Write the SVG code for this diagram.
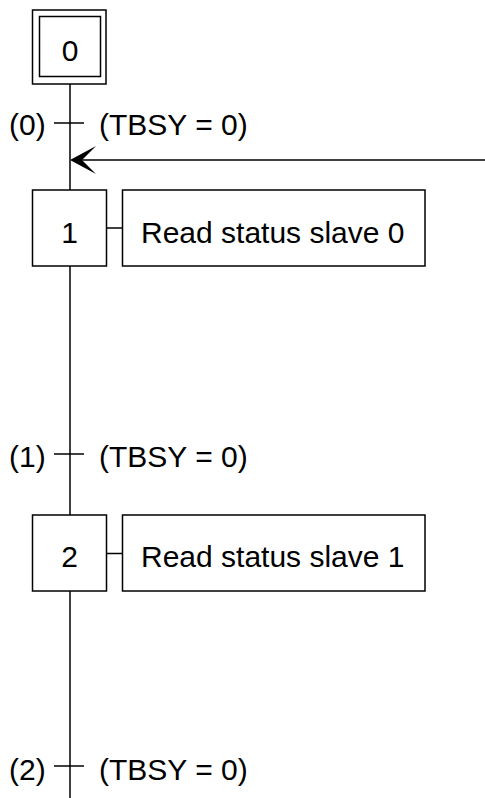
<svg xmlns="http://www.w3.org/2000/svg" width="485" height="798" viewBox="0 0 485 798">
<style>
.box{fill:#fff;stroke:#000;stroke-width:1.5}
.ln{stroke:#000;stroke-width:1.5;fill:none}
text{font-family:"Liberation Sans",Arial,sans-serif;font-size:30px;fill:#000}
.c{text-anchor:middle}
</style>
<rect width="485" height="798" fill="#fff"/>
<g id="connectors">
<line class="ln" x1="70" y1="84" x2="70" y2="190"/>
<line class="ln" x1="70" y1="266" x2="70" y2="515"/>
<line class="ln" x1="70" y1="591" x2="70" y2="798"/>
<line class="ln" x1="54" y1="123" x2="84" y2="123"/>
<line class="ln" x1="54" y1="454" x2="84" y2="454"/>
<line class="ln" x1="54" y1="766" x2="84" y2="766"/>
<line class="ln" x1="80" y1="160" x2="485" y2="160"/>
<polygon points="70,160 96,146 82,160 96,174" fill="#000"/>
<line class="ln" x1="107" y1="228" x2="122" y2="228"/>
<line class="ln" x1="107" y1="553.5" x2="122" y2="553.5"/>
</g>
<g id="step0">
<rect class="box" x="32.5" y="10" width="73.5" height="74"/>
<rect class="box" x="39.5" y="16.5" width="61" height="60"/>
<text class="c" x="70" y="60.5">0</text>
</g>
<g id="t0">
<text x="9" y="135">(0)</text>
<text x="99" y="135">(TBSY = 0)</text>
</g>
<g id="step1">
<rect class="box" x="32.5" y="190" width="74" height="76"/>
<text class="c" x="69.5" y="243">1</text>
</g>
<g id="action1">
<rect class="box" x="122.5" y="190" width="302.5" height="76"/>
<text x="141" y="243">Read status slave 0</text>
</g>
<g id="t1">
<text x="9" y="467">(1)</text>
<text x="99" y="467">(TBSY = 0)</text>
</g>
<g id="step2">
<rect class="box" x="32.5" y="515" width="74" height="76"/>
<text class="c" x="69.5" y="567">2</text>
</g>
<g id="action2">
<rect class="box" x="122.5" y="515" width="302.5" height="76"/>
<text x="141" y="567">Read status slave 1</text>
</g>
<g id="t2">
<text x="9" y="780">(2)</text>
<text x="99" y="780">(TBSY = 0)</text>
</g>
</svg>
